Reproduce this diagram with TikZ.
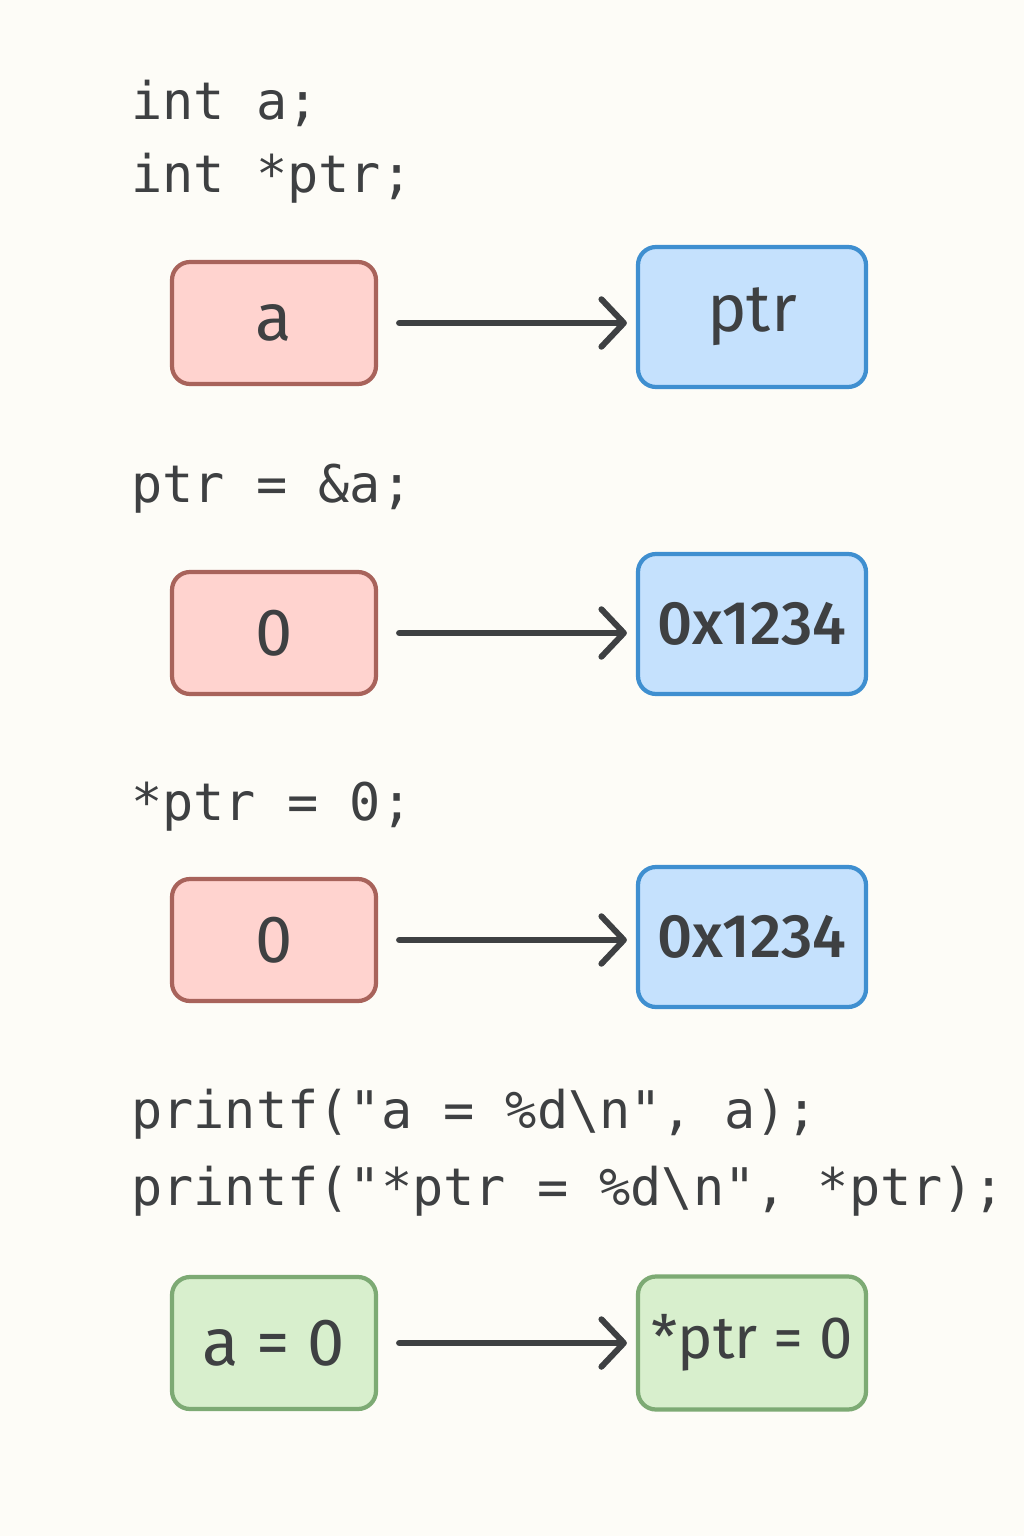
\documentclass[tikz,border=0pt]{standalone}
\usepackage{fontspec}
\setmainfont{Open Sans}
\setmonofont{DejaVu Sans Mono}
\newfontfamily\cellfont{Fira Sans}
\newfontfamily\addrfont{Fira Sans Medium}
\usepackage{tikz}
\usetikzlibrary{arrows.meta,positioning}
\definecolor{paper}{HTML}{FDFCF7}
\definecolor{ink}{HTML}{3E4042}
\definecolor{varfill}{HTML}{FFD3CF}
\definecolor{vardraw}{HTML}{A8635B}
\definecolor{ptrfill}{HTML}{C5E1FD}
\definecolor{ptrdraw}{HTML}{3F8FD0}
\definecolor{outfill}{HTML}{D8EFCD}
\definecolor{outdraw}{HTML}{7DAA74}

\begin{document}
\begin{tikzpicture}[
    code/.style={anchor=base west, inner sep=0pt, text=ink,
                 font=\ttfamily\fontsize{29.5}{36}\selectfont},
    cell/.style={draw, line width=2.4pt, rounded corners=0.36cm, text=ink,
                 minimum width=4.08cm, minimum height=2.44cm, inner sep=1pt,
                 font=\cellfont\fontsize{38}{44}\selectfont},
    varcell/.style={cell, fill=varfill, draw=vardraw},
    ptrcell/.style={cell, fill=ptrfill, draw=ptrdraw, minimum width=4.56cm, minimum height=2.8cm},
    outcell/.style={cell, fill=outfill, draw=outdraw},
    link/.style={line width=3.4pt, color=ink, line cap=round,
                 -{Straight Barb[length=0.45cm, width=0.95cm, line cap=round, line join=round]},
                 shorten <=0.42cm, shorten >=0.18cm}
]
% --- page ---
\fill[paper] (0,0) rectangle (20.48,-30.72);
\useasboundingbox (0,0) rectangle (20.48,-30.72);

% --- code lines ---
\node[code] (decla) at (2.62,-2.40) {int a;};
\node[code] (declp) at (2.62,-3.86) {int *ptr;};
\node[code] (assign) at (2.62,-10.04) {ptr = \&a;};
\node[code] (deref) at (2.62,-16.40) {*ptr = 0;};
\node[code] (printa) at (2.62,-22.56) {printf("a = \%d\textbackslash n", a);};
\node[code] (printp) at (2.62,-24.10) {printf("*ptr = \%d\textbackslash n", *ptr);};

% --- memory cells ---
\node[varcell] (a)    at (5.48,-6.46)  {a};
\node[ptrcell] (ptr)  at (15.04,-6.34) {ptr};
\node[varcell] (val1) at (5.48,-12.66) {0};
\node[ptrcell, font=\addrfont\fontsize{35}{40}\selectfont] (adr1) at (15.04,-12.48) {0x1234};
\node[varcell] (val2) at (5.48,-18.80) {0};
\node[ptrcell, font=\addrfont\fontsize{35}{40}\selectfont] (adr2) at (15.04,-18.74) {0x1234};

% --- output ---
\node[outcell, minimum height=2.64cm] (outa) at (5.48,-26.86) {a = 0};
\node[outcell, minimum width=4.56cm, minimum height=2.66cm,
      font=\cellfont\fontsize{34}{40}\selectfont] (outp) at (15.04,-26.86) {*ptr = 0};

% --- links ---
\draw[link] (a.east) -- (a.east -| ptr.west);
\draw[link] (val1.east) -- (val1.east -| adr1.west);
\draw[link] (val2.east) -- (val2.east -| adr2.west);
\draw[link] (outa.east) -- (outa.east -| outp.west);

\end{tikzpicture}
\end{document}
